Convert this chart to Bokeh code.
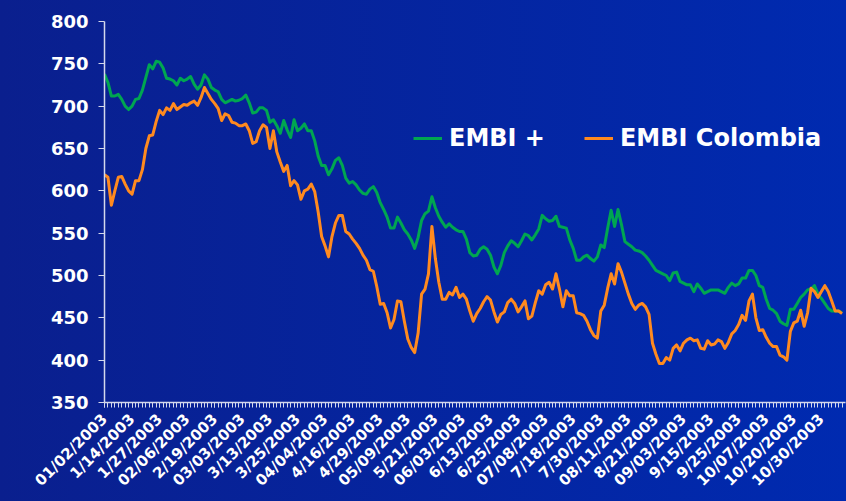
import math
from bokeh.plotting import figure
from bokeh.models import Range1d, FixedTicker, Legend, LegendItem
from bokeh.embed import file_html
from bokeh.resources import INLINE

tick_labels = ["01/02/2003", "1/14/2003", "1/27/2003", "02/06/2003", "2/19/2003",
               "03/03/2003", "3/13/2003", "3/25/2003", "04/04/2003", "4/16/2003",
               "4/29/2003", "05/09/2003", "5/21/2003", "06/03/2003", "6/13/2003",
               "6/25/2003", "07/08/2003", "7/18/2003", "7/30/2003", "08/11/2003",
               "8/21/2003", "09/03/2003", "9/15/2003", "9/25/2003", "10/07/2003",
               "10/20/2003", "10/30/2003"]

embi_plus = [
    738, 728, 712, 712, 714, 708, 700, 696, 700, 708,
    709, 719, 734, 749, 744, 753, 752, 745, 733, 732,
    730, 725, 733, 730, 732, 735, 726, 720, 725, 737,
    732, 722, 719, 717, 708, 704, 706, 708, 706, 707,
    709, 713, 704, 692, 693, 698, 698, 695, 681, 684,
    677, 668, 683, 672, 663, 684, 671, 674, 679, 671,
    671, 659, 641, 630, 630, 619, 626, 636, 639, 630,
    615, 609, 611, 607, 601, 597, 596, 602, 605, 598,
    586, 578, 569, 556, 556, 569, 562, 554, 549, 542,
    532, 545, 565, 573, 576, 593, 580, 570, 563, 557,
    561, 557, 554, 552, 552, 543, 527, 523, 524, 531,
    534, 531, 524, 510, 502, 512, 527, 535, 541, 538,
    534, 541, 549, 547, 542, 548, 555, 571, 567, 564,
    565, 570, 558, 557, 556, 542, 532, 518, 518, 522,
    524, 520, 517, 522, 536, 533, 556, 577, 558, 578,
    560, 540, 537, 534, 530, 529, 527, 523, 518, 512,
    506, 504, 502, 500, 494, 503, 504, 493, 491, 489,
    489, 481, 490, 485, 479, 481, 483, 483, 483, 481,
    479, 486, 491, 488, 490, 497, 497, 506, 506, 500,
    488, 486, 472, 461, 459, 455, 446, 443, 441, 460,
    460, 467, 474, 478, 483, 484, 488, 478, 473, 467,
    461, 458, 458, 458, 456]

embi_colombia = [
    619, 616, 583, 600, 616, 617, 608, 600, 596, 612,
    612, 625, 650, 665, 666, 682, 695, 690, 698, 695,
    703, 696, 699, 702, 701, 704, 706, 701, 710, 722,
    715, 708, 703, 697, 683, 691, 689, 681, 680, 677,
    677, 679, 671, 656, 658, 671, 678, 675, 650, 671,
    646, 634, 623, 630, 606, 612, 607, 590, 600, 602,
    608, 599, 575, 546, 535, 522, 546, 562, 571, 571,
    552, 549, 543, 538, 532, 524, 518, 507, 505, 487,
    466, 467, 456, 438, 448, 470, 469, 446, 425, 415,
    409, 432, 478, 484, 502, 558, 520, 492, 472, 472,
    480, 477, 486, 474, 478, 472, 458, 446, 455, 461,
    469, 475, 471, 457, 445, 454, 457, 468, 472, 467,
    457, 463, 470, 449, 452, 468, 482, 478, 489, 492,
    484, 502, 484, 463, 482, 476, 476, 456, 455, 453,
    446, 436, 429, 426, 458, 465, 485, 502, 490, 514,
    504, 491, 478, 467, 460, 465, 467, 463, 454, 420,
    407, 396, 396, 403, 400, 414, 418, 411, 420, 424,
    426, 423, 424, 414, 413, 423, 418, 419, 424, 422,
    414, 421, 431, 435, 442, 453, 447, 470, 478, 450,
    435, 436, 427, 420, 416, 416, 406, 404, 400, 434,
    444, 446, 459, 440, 456, 485, 481, 474, 481, 488,
    481, 470, 458, 458, 455]

x = list(range(len(embi_plus)))
label_idx = list(range(0, len(x), 8))

FONT = "DejaVu Sans"
WHITE = "#ffffff"
AXIS_C = "#d4d8ec"

p = figure(width=846, height=501, output_backend="svg", toolbar_location=None,
           x_range=Range1d(0, len(x)), y_range=Range1d(350, 800),
           min_border_left=104, min_border_right=1, min_border_top=21,
           min_border_bottom=99)
p.background_fill_color = None
p.border_fill_color = None
p.styles = {"background": "linear-gradient(to right, #0a1f8e, #002ab0)"}
p.outline_line_color = None
p.xgrid.visible = False
p.ygrid.visible = False

g = p.line(x, embi_plus, line_color="#00a651", line_width=3, line_join="round")
o = p.line(x, embi_colombia, line_color="#ff8a1f", line_width=3, line_join="round")

p.xaxis.ticker = FixedTicker(ticks=label_idx, minor_ticks=x)
p.xaxis.major_label_overrides = {i: t for i, t in zip(label_idx, tick_labels)}
p.xaxis.major_label_orientation = math.pi / 4
p.xaxis.major_label_text_font = FONT
p.xaxis.major_label_text_font_style = "bold"
p.xaxis.major_label_text_font_size = "15px"
p.xaxis.major_label_text_color = WHITE
p.xaxis.major_label_standoff = 9
p.xaxis.major_tick_in = 0
p.xaxis.major_tick_out = 5
p.xaxis.minor_tick_in = 0
p.xaxis.minor_tick_out = 5
p.xaxis.axis_line_color = AXIS_C
p.xaxis.major_tick_line_color = AXIS_C
p.xaxis.minor_tick_line_color = AXIS_C
p.xaxis.axis_line_width = 1.5

p.yaxis.ticker = FixedTicker(ticks=list(range(350, 801, 50)))
p.yaxis.major_label_text_font = FONT
p.yaxis.major_label_text_font_style = "bold"
p.yaxis.major_label_text_font_size = "18px"
p.yaxis.major_label_text_color = WHITE
p.yaxis.major_label_standoff = 10
p.yaxis.major_tick_in = 0
p.yaxis.major_tick_out = 6
p.yaxis.minor_tick_line_color = None
p.yaxis.axis_line_color = AXIS_C
p.yaxis.major_tick_line_color = AXIS_C
p.yaxis.axis_line_width = 1.5

legend = Legend(items=[LegendItem(label="EMBI +", renderers=[g]),
                       LegendItem(label="EMBI Colombia", renderers=[o])],
                orientation="horizontal", location=(309, 250))
legend.background_fill_alpha = 0
legend.border_line_color = None
legend.padding = 0
legend.margin = 0
legend.spacing = 39
legend.label_standoff = 7
legend.glyph_width = 29
legend.label_text_font = FONT
legend.label_text_font_style = "bold"
legend.label_text_font_size = "24px"
legend.label_text_color = WHITE
p.add_layout(legend)

open("out.html", "w").write(file_html(p, INLINE))
